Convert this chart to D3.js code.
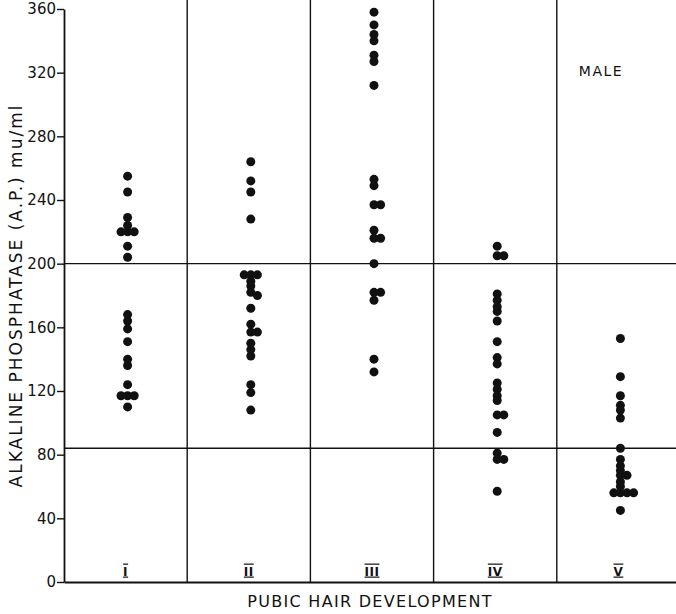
<!DOCTYPE html>
<html>
<head>
<meta charset="utf-8">
<script src="https://cdn.jsdelivr.net/npm/d3@7"></script>
<style>
  body { margin: 0; background: #fff; }
  svg { display: block; }
  text { font-family: "DejaVu Sans", sans-serif; fill: #111; }
</style>
</head>
<body>
<div id="chart"></div>
<script>
// categories (pubic hair stage) and AP values
var stages = ["I", "II", "III", "IV", "V"];

var apStageI = [255, 245, 229, 224, 220, 220, 220, 211, 204, 168, 164, 159, 151, 140, 136, 124, 117, 117, 117, 110];
var apStageII = [264, 252, 245, 228, 193, 193, 193, 189, 186, 182, 180, 172, 162, 157, 157, 150, 146, 142, 124, 119, 108];
var apStageIII = [358, 350, 344, 340, 331, 327, 312, 253, 249, 237, 237, 221, 216, 216, 200, 182, 182, 177, 140, 132];
var apStageIV = [211, 205, 205, 181, 177, 173, 170, 164, 151, 141, 137, 125, 121, 117, 114, 105, 105, 94, 81, 77, 77, 57];
var apStageV = [153, 129, 117, 111, 108, 103, 84, 77, 73, 70, 67, 67, 63, 60, 56, 56, 56, 56, 45];

var apByStage = [apStageI, apStageII, apStageIII, apStageIV, apStageV];

var yTicks = [0, 40, 80, 120, 160, 200, 240, 280, 320, 360];
var refLines = [200, 84];

// svg size
var svgWidth = 676;
var svgHeight = 614;

var margin = { top: 9, bottom: 32, right: -4, left: 64 };
var height = svgHeight - margin.top - margin.bottom;
var width = svgWidth - margin.left - margin.right;

var svg = d3.select("#chart")
    .append("svg")
    .attr("width", svgWidth)
    .attr("height", svgHeight);

var chartGroup = svg.append("g")
    .attr("transform", `translate(${margin.left}, ${margin.top})`);

// scales
var xScale = d3.scaleBand()
    .domain(stages)
    .range([0, width])
    .padding(0);

var yScale = d3.scaleLinear()
    .domain([0, 360])
    .range([height, 0]);

// column dividers, from the top of the page to the x axis
chartGroup.selectAll(".divider")
    .data(stages.slice(1))
    .enter()
    .append("line")
    .attr("x1", d => xScale(d))
    .attr("x2", d => xScale(d))
    .attr("y1", -margin.top)
    .attr("y2", height)
    .attr("stroke", "#111")
    .attr("stroke-width", 1.4);

// horizontal reference lines
chartGroup.selectAll(".refline")
    .data(refLines)
    .enter()
    .append("line")
    .attr("x1", 0)
    .attr("x2", width)
    .attr("y1", d => yScale(d))
    .attr("y2", d => yScale(d))
    .attr("stroke", "#111")
    .attr("stroke-width", 1.4);

// y axis
var leftAxis = d3.axisLeft(yScale)
    .tickValues(yTicks)
    .tickSize(7)
    .tickSizeOuter(0)
    .tickPadding(1);

var yAxis = chartGroup.append("g")
    .call(leftAxis);
yAxis.select(".domain").attr("stroke", "#111").attr("stroke-width", 1.8);
yAxis.selectAll(".tick line").attr("stroke", "#111").attr("stroke-width", 1.4);
yAxis.selectAll("text")
    .attr("font-family", "DejaVu Sans")
    .attr("font-size", 15)
    .attr("fill", "#111");

// x axis, roman numerals sit inside the plot
var bottomAxis = d3.axisBottom(xScale)
    .tickSize(0)
    .tickSizeOuter(0);

var xAxis = chartGroup.append("g")
    .attr("transform", `translate(0, ${height})`)
    .call(bottomAxis);
xAxis.select(".domain").attr("stroke", "#111").attr("stroke-width", 2);
xAxis.selectAll("text")
    .attr("y", -15)
    .attr("font-family", "DejaVu Sans")
    .attr("font-weight", "bold")
    .attr("font-size", 12)
    .attr("letter-spacing", 0.5)
    .attr("fill", "#111")
    .style("text-decoration", "overline underline");

// place dots, shifting sideways only when they sit on top of each other
var dotR = 4.5;
var step = 6.6;
var minDist = 4.6;

function dodge(values, cx) {
    var placed = [];
    values.slice().sort((a, b) => b - a).forEach(function (v) {
        var cy = yScale(v);
        var order = [0, 1, -1, 2, -2];
        for (var i = 0; i < order.length; i++) {
            var px = cx + order[i] * step;
            var ok = placed.every(p => Math.hypot(p.x - px, p.y - cy) >= minDist);
            if (ok) {
                placed.push({ x: px, y: cy, v: v });
                break;
            }
        }
    });
    return placed;
}

stages.forEach(function (s, i) {
    var cx = xScale(s) + xScale.bandwidth() / 2 + 2;
    chartGroup.selectAll(".dot-" + i)
        .data(dodge(apByStage[i], cx))
        .enter()
        .append("circle")
        .attr("cx", d => d.x)
        .attr("cy", d => d.y)
        .attr("r", dotR)
        .attr("fill", "#111");
});

// axis titles
svg.append("text")
    .attr("transform", `translate(22, ${margin.top + height / 2}) rotate(-90)`)
    .attr("text-anchor", "middle")
    .attr("font-size", 17)
    .attr("letter-spacing", 2)
    .text("ALKALINE  PHOSPHATASE (A.P.) mu/ml");

svg.append("text")
    .attr("x", margin.left + 306)
    .attr("y", 607)
    .attr("text-anchor", "middle")
    .attr("font-size", 16)
    .attr("letter-spacing", 1.3)
    .text("PUBIC  HAIR  DEVELOPMENT");

svg.append("text")
    .attr("x", 601)
    .attr("y", 76)
    .attr("text-anchor", "middle")
    .attr("font-size", 14)
    .attr("letter-spacing", 1.5)
    .text("MALE");
</script>
</body>
</html>
